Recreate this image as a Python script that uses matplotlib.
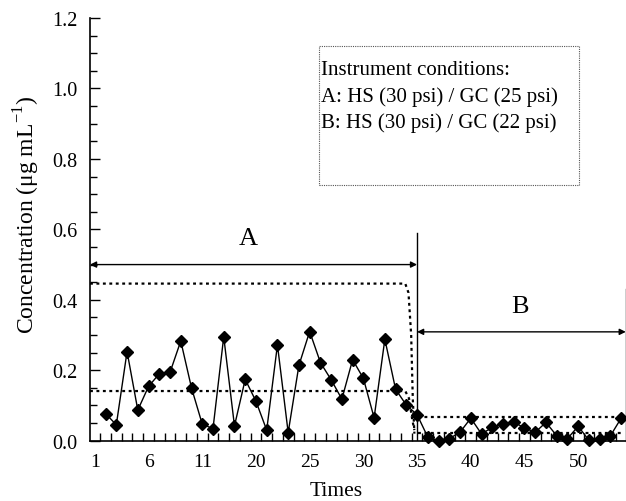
import matplotlib
matplotlib.use("Agg")
import matplotlib.pyplot as plt
from matplotlib.patches import Rectangle
import numpy as np

plt.rcParams['font.family'] = ['Liberation Serif', 'DejaVu Serif']
plt.rcParams['mathtext.fontset'] = 'custom'
plt.rcParams['mathtext.rm'] = 'Liberation Serif'

# measured concentrations, run order 1..49
conc = [0.077, 0.045, 0.253, 0.087, 0.154, 0.190, 0.194, 0.283, 0.150, 0.047,
        0.034, 0.295, 0.042, 0.174, 0.112, 0.030, 0.272, 0.023, 0.214, 0.310,
        0.222, 0.173, 0.118, 0.230, 0.177, 0.065, 0.288, 0.146, 0.101, 0.074,
        0.010, 0.000, 0.006, 0.024, 0.064, 0.019, 0.038, 0.048, 0.053, 0.036,
        0.024, 0.052, 0.014, 0.006, 0.041, 0.001, 0.006, 0.014, 0.064]
runs = np.arange(1, len(conc) + 1)

# control limits for the two instrument conditions
limA_upper = 0.446
limA_lower = 0.141
limB_upper = 0.066
limB_lower = 0.022
split = 30  # run where condition B starts

tick_pos = [0, 5, 10, 15, 20, 25, 30, 35, 40, 45]
tick_labels = ['1', '6', '11', '20', '25', '30', '35', '40', '45', '50']

fig = plt.figure(figsize=(6.26, 5.02), dpi=100)
ax = fig.add_axes([90 / 626, 60.3 / 502, 536 / 626, 422.7 / 502])

xmin, xmax = -0.45, 49.45
ax.set_xlim(xmin, xmax)
ax.set_ylim(0, 1.2)

# dotted limit lines, A bends down just before the split
ax.plot([xmin, 28.9, 29.2, 29.45, 29.6, 29.75],
        [limA_upper, limA_upper, 0.42, 0.30, 0.12, 0.02],
        color='k', lw=1.6, dashes=(1.3, 1.6), clip_on=False)
ax.plot([xmin, 28.9, 29.25, 29.55, 29.75],
        [limA_lower, limA_lower, 0.12, 0.06, 0.03],
        color='k', lw=1.6, dashes=(1.3, 1.6), clip_on=False)
ax.plot([split + 0.1, 49.2], [limB_upper, limB_upper],
        color='k', lw=1.6, dashes=(1.3, 1.6))
ax.plot([split + 0.1, 49.2], [limB_lower, limB_lower],
        color='k', lw=1.6, dashes=(1.3, 1.6))

ax.plot(runs, conc, color='k', lw=1.0, marker='D', markersize=6,
        markerfacecolor='k', markeredgecolor='k', clip_on=False, zorder=3)

# region markers
ax.plot([split, split], [0, 0.59], color='k', lw=1.0)
ax.plot([xmax - 0.02, xmax - 0.02], [0, 0.43], color='k', lw=1.0, clip_on=False)
arrow = dict(arrowstyle='<|-|>', color='k', lw=1.0, mutation_scale=9,
             shrinkA=0, shrinkB=0)
ax.annotate('', xy=(split, 0.50), xytext=(xmin, 0.50), arrowprops=arrow)
ax.annotate('', xy=(xmax - 0.02, 0.309), xytext=(split, 0.309), arrowprops=arrow,
            annotation_clip=False)
ax.text(14.3, 0.576, 'A', fontsize=19, ha='center', va='center')
ax.text(39.6, 0.382, 'B', fontsize=19, ha='center', va='center')

# conditions box
ax.add_patch(Rectangle((20.84, 0.726), 45.03 - 20.84, 1.121 - 0.726,
                       fill=False, ec='#555555', lw=0.8, ls=(0, (1, 1))))
box_lines = ['Instrument conditions:',
             'A: HS (30 psi) / GC (25 psi)',
             'B: HS (30 psi) / GC (22 psi)']
box_y = [1.053, 0.977, 0.904]
for txt, yy in zip(box_lines, box_y):
    ax.text(21.1, yy, txt, fontsize=15, va='center')

for s in ['top', 'right']:
    ax.spines[s].set_visible(False)
ax.spines['left'].set_linewidth(1.2)
ax.spines['bottom'].set_linewidth(1.2)

ax.set_yticks(np.arange(0, 1.21, 0.2))
ax.set_yticks(np.arange(0, 1.21, 0.05), minor=True)
ax.set_yticklabels(['%.1f' % v for v in np.arange(0, 1.21, 0.2)])
ax.set_xticks(tick_pos)
ax.set_xticklabels(tick_labels)
ax.set_xticks(np.arange(0.5, 49, 1.0), minor=True)
ax.tick_params(axis='y', which='major', direction='in', length=7, width=1.0,
               labelsize=14.5, pad=9)
ax.tick_params(axis='y', which='minor', direction='in', length=5, width=1.0)
ax.tick_params(axis='x', which='major', length=0, labelsize=14, pad=9)
ax.tick_params(axis='x', which='minor', direction='in', length=6, width=1.0)

fig.text(335.7 / 626, 1 - 492 / 502, 'Times', fontsize=15.5,
         ha='center', va='center')
fig.text(27 / 626, 1 - 215 / 502, 'Concentration (μg mL$^{-1}$)', fontsize=17,
         rotation=90, ha='center', va='center')

fig.savefig('out.png', dpi=100)
